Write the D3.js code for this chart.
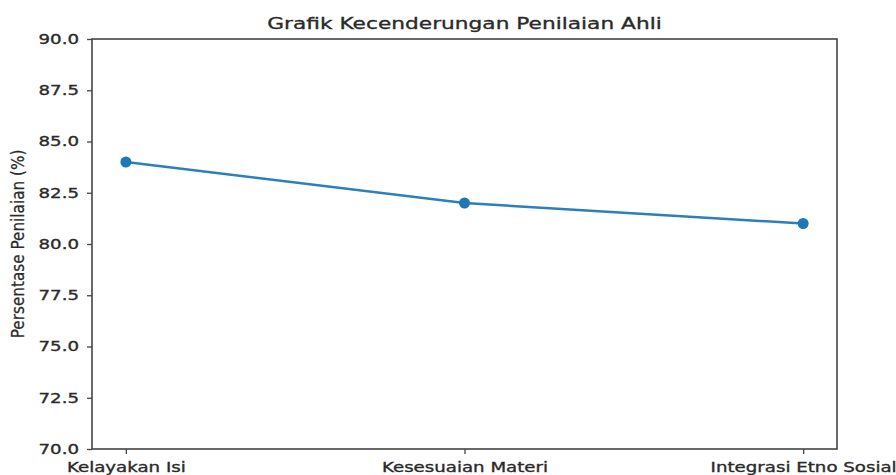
<!DOCTYPE html>
<html>
<head>
<meta charset="utf-8">
<title>Grafik Kecenderungan Penilaian Ahli</title>
<script src="https://d3js.org/d3.v7.min.js"></script>
<style>
  body { margin: 0; background: #fff; }
  text { font-family: "DejaVu Sans", sans-serif; fill: #2a2a2a; stroke: #2a2a2a; stroke-width: 0.35px; }
</style>
</head>
<body>
<div id="chart"></div>
<script>
// data
var categories = ["Kelayakan Isi", "Kesesuaian Materi", "Integrasi Etno Sosial"];
var values = [84, 82, 81];
var yTicks = [70, 72.5, 75, 77.5, 80, 82.5, 85, 87.5, 90];

var W = 896, H = 475;
var pLeft = 92, pRight = 837, pTop = 39, pBottom = 449;
var sx = 1.3; // text in the picture is stretched sideways

var svg = d3.select("#chart").append("svg")
    .attr("width", W).attr("height", H);

var x = d3.scalePoint().domain(categories).range([pLeft, pRight]).padding(0.1);
var y = d3.scaleLinear().domain([70, 90]).range([pBottom, pTop]);

// y axis
var gy = svg.append("g")
    .attr("transform", "translate(" + pLeft + ",0)")
    .call(d3.axisLeft(y).tickValues(yTicks).tickFormat(d3.format(".1f"))
        .tickSize(5).tickPadding(5).tickSizeOuter(0));
gy.select(".domain").remove();
gy.selectAll("line").attr("stroke", "#444").attr("stroke-width", 1.3);
gy.selectAll("text")
    .style("font-size", "14px")
    .attr("transform", "scale(" + sx + ",1)");

// x axis
var gx = svg.append("g")
    .attr("transform", "translate(0," + pBottom + ")")
    .call(d3.axisBottom(x).tickSize(5).tickPadding(8).tickSizeOuter(0));
gx.select(".domain").remove();
gx.selectAll("line").attr("stroke", "#444").attr("stroke-width", 1.3);
gx.selectAll("text")
    .style("font-size", "14px")
    .attr("transform", "scale(" + sx + ",1)");

// spines
svg.append("rect")
    .attr("x", pLeft).attr("y", pTop)
    .attr("width", pRight - pLeft).attr("height", pBottom - pTop)
    .attr("fill", "none").attr("stroke", "#444").attr("stroke-width", 1.6);

// line + markers
var line = d3.line()
    .x(function(d, i) { return x(categories[i]); })
    .y(function(d) { return y(d); });

svg.append("path")
    .datum(values)
    .attr("d", line)
    .attr("fill", "none")
    .attr("stroke", "#2a7fbc")
    .attr("stroke-width", 2.5);

svg.selectAll("circle.pt")
    .data(values)
    .enter().append("circle")
    .attr("class", "pt")
    .attr("cx", function(d, i) { return x(categories[i]); })
    .attr("cy", function(d) { return y(d); })
    .attr("r", 5.5)
    .attr("fill", "#1f77b4");

// title
svg.append("text")
    .attr("transform", "translate(" + ((pLeft + pRight) / 2) + ",29) scale(" + sx + ",1)")
    .attr("text-anchor", "middle")
    .style("font-size", "16.7px")
    .text("Grafik Kecenderungan Penilaian Ahli");

// y label
svg.append("text")
    .attr("transform", "translate(24," + ((pTop + pBottom) / 2) + ") rotate(-90) scale(1.09,1.2)")
    .attr("text-anchor", "middle")
    .style("font-size", "14px")
    .style("stroke-width", "0.2px")
    .text("Persentase Penilaian (%)");
</script>
</body>
</html>
